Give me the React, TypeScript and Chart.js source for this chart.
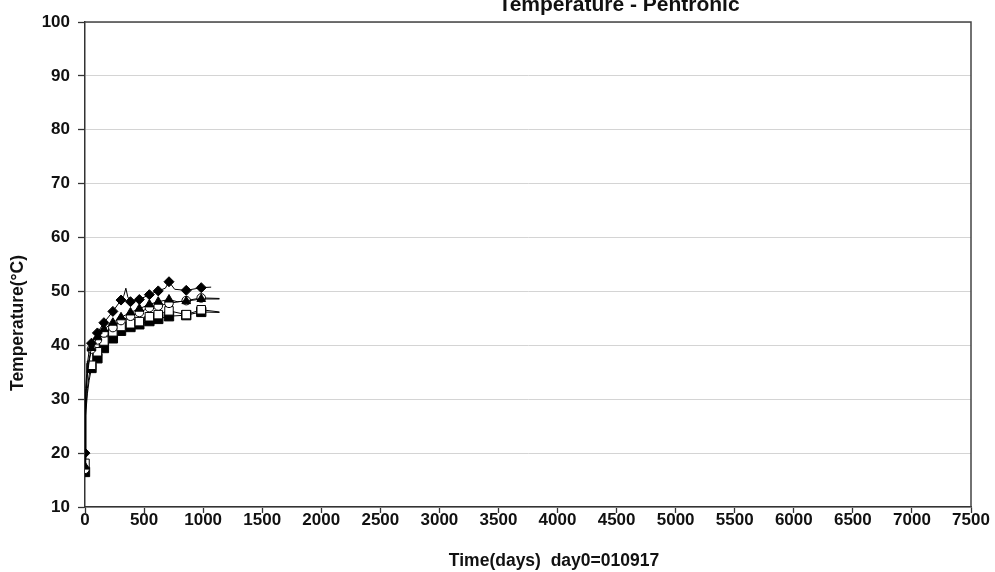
import React, { useEffect, useRef } from "react";
import { Chart, registerables } from "chart.js";

Chart.register(...registerables);

const titleText = "Temperature - Pentronic";
const xTitleText = "Time(days)  day0=010917";
const yTitleText = "Temperature(°C)";

const xTickValues = [0, 500, 1000, 1500, 2000, 2500, 3000, 3500, 4000, 4500, 5000, 5500, 6000, 6500, 7000, 7500];
const yTickValues = [10, 20, 30, 40, 50, 60, 70, 80, 90, 100];

// days at which the measurement markers are shown
const markerDays = [0, 55, 105, 160, 236, 305, 385, 460, 545, 620, 711, 857, 984];

const diamondDays = [0, 3, 8, 20, 35, 55, 105, 160, 236, 305, 330, 346, 362, 385, 460, 545, 620, 680, 711, 759, 857, 984, 1068];
const diamondTemp = [20, 27, 32, 36.5, 39, 40.4, 42.3, 44.2, 46.3, 48.4, 49.3, 50.6, 49, 48.1, 48.5, 49.4, 50.1, 50.6, 51.8, 50.4, 50.2, 50.7, 50.8];

const triangleDays = [0, 3, 8, 20, 35, 55, 105, 160, 236, 305, 385, 460, 545, 620, 711, 780, 857, 984, 1138];
const triangleTemp = [17.5, 26, 30.5, 35, 37.5, 39.5, 41.5, 43, 44.2, 45.2, 46.1, 46.8, 47.6, 48.1, 48.5, 48.1, 48.2, 48.6, 48.6];

const circleDays = [0, 3, 8, 20, 35, 55, 105, 160, 236, 305, 385, 460, 545, 620, 711, 857, 984, 1138];
const circleTemp = [17, 25, 30, 34.5, 37, 39.3, 41, 42.3, 43.3, 44.6, 45.4, 46.1, 47, 47.3, 47.8, 48.3, 48.8, 48.7];

const openSquareDays = [0, 3, 8, 20, 35, 55, 105, 160, 236, 305, 385, 460, 545, 620, 711, 857, 984, 1138];
const openSquareTemp = [18.1, 24, 28, 32, 34.5, 36.3, 38.8, 40.8, 42.5, 43.5, 44, 44.4, 45.3, 45.7, 46.4, 45.7, 46.6, 46.2];

const filledSquareDays = [0, 3, 8, 20, 35, 55, 105, 160, 236, 305, 385, 460, 545, 620, 711, 857, 984, 1138];
const filledSquareTemp = [16.5, 23, 27, 31, 33.5, 35.8, 37.6, 39.5, 41.3, 42.7, 43.4, 43.9, 44.5, 44.9, 45.4, 45.6, 46.2, 46.1];

const FONT = "'Liberation Sans', Arial, Helvetica, sans-serif";

function pts(xs: number[], ys: number[]) {
  return xs.map((x, i) => ({ x, y: ys[i] }));
}

function makeSet(label: string, xs: number[], ys: number[], style: string, r: number, fill: string) {
  return {
    label,
    data: pts(xs, ys),
    showLine: true,
    borderColor: "#000",
    borderWidth: 1,
    pointStyle: style,
    pointRadius: (c: any) => (c.raw && markerDays.includes(c.raw.x) ? r : 0),
    pointBackgroundColor: fill,
    pointBorderColor: "#000",
    pointBorderWidth: 1,
    pointHoverRadius: 0,
    tension: 0,
  };
}

const decorPlugin = {
  id: "decor",
  afterDraw(chart: any) {
    const { ctx, chartArea: a } = chart;
    ctx.save();
    ctx.strokeStyle = "#444";
    ctx.lineWidth = 1.5;
    ctx.beginPath();
    ctx.moveTo(a.left, a.top);
    ctx.lineTo(a.right, a.top);
    ctx.lineTo(a.right, a.bottom);
    ctx.stroke();

    ctx.fillStyle = "#111";
    ctx.textBaseline = "alphabetic";
    ctx.textAlign = "center";
    ctx.font = `bold 21px ${FONT}`;
    ctx.fillText(titleText, 619, 11);

    ctx.font = `bold 17.5px ${FONT}`;
    ctx.fillText(xTitleText, 554, 566);

    ctx.translate(23, 323);
    ctx.rotate(-Math.PI / 2);
    ctx.fillText(yTitleText, 0, 0);
    ctx.restore();
  },
};

export default function App() {
  const ref = useRef<HTMLCanvasElement | null>(null);

  useEffect(() => {
    if (!ref.current) return;
    const chart = new Chart(ref.current, {
      type: "scatter",
      data: {
        datasets: [
          makeSet("diamond", diamondDays, diamondTemp, "rectRot", 5, "#000"),
          makeSet("triangle", triangleDays, triangleTemp, "triangle", 5, "#000"),
          makeSet("circle", circleDays, circleTemp, "circle", 4.3, "#fff"),
          makeSet("openSquare", openSquareDays, openSquareTemp, "rect", 6, "#fff"),
          makeSet("filledSquare", filledSquareDays, filledSquareTemp, "rect", 6.6, "#000"),
        ] as any,
      },
      options: {
        animation: false,
        responsive: true,
        maintainAspectRatio: false,
        layout: { padding: { left: 0, right: 24, top: 22, bottom: 0 } },
        plugins: {
          legend: { display: false },
          title: { display: false },
          tooltip: { enabled: false },
        },
        scales: {
          x: {
            type: "linear",
            min: 0,
            max: 7500,
            afterFit: (s: any) => {
              s.height = 65;
            },
            afterBuildTicks: (s: any) => {
              s.ticks = xTickValues.map((v) => ({ value: v }));
            },
            grid: {
              drawOnChartArea: false,
              drawTicks: true,
              tickLength: 6,
              tickColor: "#333",
              tickWidth: 1.3,
            },
            border: { color: "#333", width: 1.5 },
            ticks: {
              color: "#111",
              padding: -3,
              maxRotation: 0,
              autoSkip: false,
              callback: (v: any) => String(v),
              font: { family: FONT, size: 17, weight: "bold" },
            },
          },
          y: {
            type: "linear",
            min: 10,
            max: 100,
            afterFit: (s: any) => {
              s.width = 85;
            },
            afterBuildTicks: (s: any) => {
              s.ticks = yTickValues.map((v) => ({ value: v }));
            },
            grid: {
              color: "#d4d4d4",
              lineWidth: 1,
              drawTicks: true,
              tickLength: 7,
              tickColor: "#333",
              tickWidth: 1.3,
            },
            border: { color: "#333", width: 1.5 },
            ticks: {
              color: "#111",
              padding: 8,
              autoSkip: false,
              callback: (v: any) => String(v),
              font: { family: FONT, size: 17, weight: "bold" },
            },
          },
        },
      } as any,
      plugins: [decorPlugin],
    });
    return () => chart.destroy();
  }, []);

  return (
    <div style={{ position: "absolute", left: 0, top: 0, width: 995, height: 572, background: "#fff" }}>
      <canvas ref={ref} />
    </div>
  );
}
